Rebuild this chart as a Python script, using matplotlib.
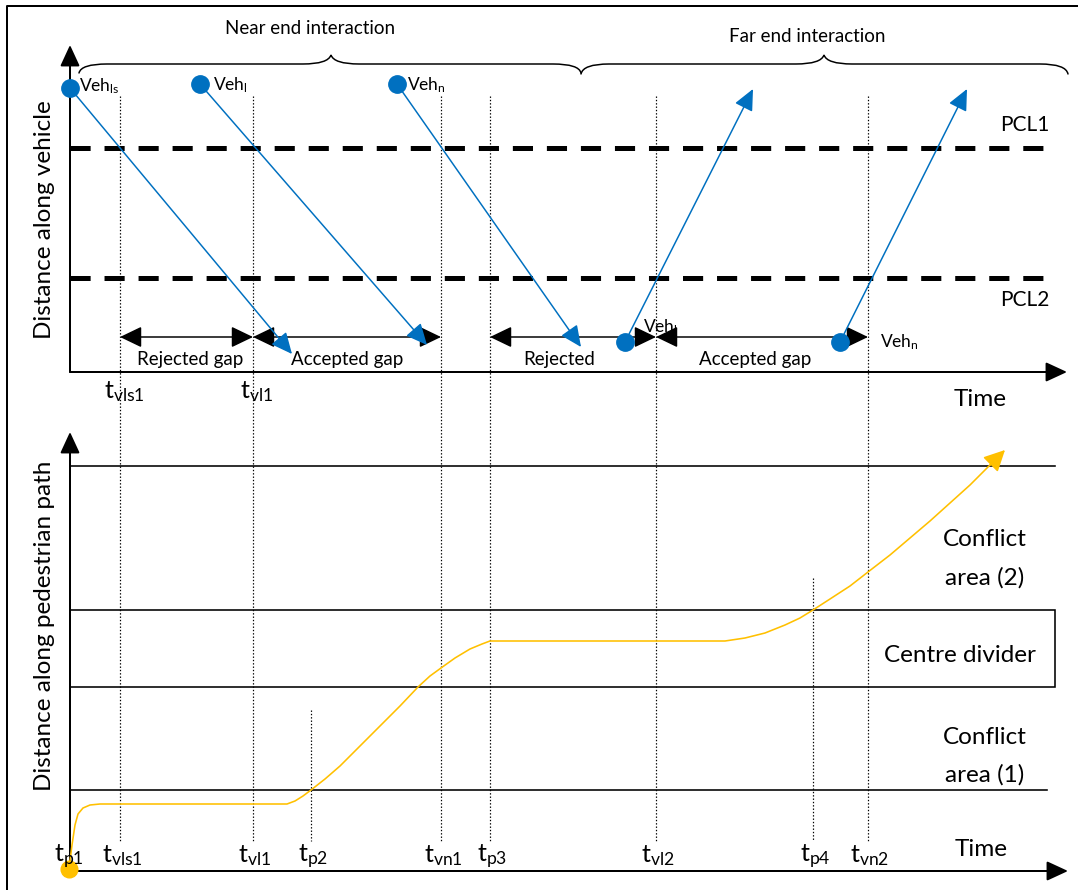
import matplotlib.pyplot as plt
from matplotlib.patches import FancyArrowPatch, Rectangle, PathPatch
from matplotlib.path import Path

plt.rcParams['font.family'] = ['Lato', 'DejaVu Sans']
plt.rcParams['mathtext.fontset'] = 'custom'
plt.rcParams['mathtext.rm'] = 'Lato'
plt.rcParams['mathtext.it'] = 'Lato:italic'
plt.rcParams['lines.scale_dashes'] = False

# Diagram units are canvas pixels (x = time, y grows downwards)

# event times marked on the time axes
T_NAMES = ['vls1', 'vl1', 'p2', 'vn1', 'p3', 'vl2', 'p4', 'vn2']
T_X = [120, 253, 311, 441, 490, 656, 813, 868]
T_START = [96, 96, 710, 96, 96, 96, 578, 96]
T_END = 841
T_TOP_LABELS = ['vls1', 'vl1']

# vehicle trajectories: dot -> arrow tip
VEH_NAMES = ['ls', 'l', 'n', 'l', 'n']
VEH_X0 = [70, 200, 397, 625, 840]
VEH_Y0 = [88, 84, 84, 342, 342]
VEH_X1 = [292, 427, 581, 753, 967]
VEH_Y1 = [354, 345, 347, 89, 89]

# pedestrian crossing lines
PCL_NAMES = ['PCL1', 'PCL2']
PCL_Y = [148, 278]

# gaps between vehicles
GAP_X0 = [120, 253, 490, 656]
GAP_X1 = [253, 441, 656, 868]
GAP_LABELS = ['Rejected gap', 'Accepted gap', 'Rejected', 'Accepted gap']
GAP_LABEL_X = [190, 347, 559, 755]
GAP_Y = 337

# pedestrian path (time, distance)
PED_X = [69, 72, 75, 78, 83, 90, 100, 287, 295, 303, 311, 325, 340, 360, 380,
         400, 418, 430, 441, 455, 470, 482, 490, 725, 745, 765, 785, 800, 813,
         830, 850, 868, 890, 910, 930, 950, 970, 990]
PED_Y = [869, 845, 825, 814, 808, 805, 804, 804, 801, 796, 790, 779, 766, 746,
         726, 706, 687, 676, 668, 658, 649, 644, 641, 641, 638, 633, 625, 618,
         610, 599, 586, 572, 555, 538, 521, 503, 485, 465]
PED_TIP = (1005, 450)

# zones along the pedestrian path
ZONE_Y = [466, 610, 687, 790]

PX = 0.72  # points per pixel at dpi 100
BLUE = '#0070C0'
YELLOW = '#FFC000'


def arrow(ax, p0, p1, style, color, lw, hl, hw, z=3):
    a = FancyArrowPatch(p0, p1, arrowstyle=f'{style},head_length={hl},head_width={hw}',
                        color=color, lw=lw, shrinkA=0, shrinkB=0,
                        mutation_scale=1, zorder=z)
    ax.add_patch(a)


def brace(ax, x0, x1, xm, y_end, y_flat, y_tip, r=28):
    verts = [(x0, y_end), (x0 + 2, y_flat), (x0 + r, y_flat),
             (xm - r, y_flat),
             (xm - 3, y_flat), (xm, y_tip),
             (xm + 3, y_flat), (xm + r, y_flat),
             (x1 - r, y_flat),
             (x1 - 2, y_flat), (x1, y_end)]
    codes = [Path.MOVETO, Path.CURVE3, Path.CURVE3, Path.LINETO,
             Path.CURVE3, Path.CURVE3, Path.CURVE3, Path.CURVE3,
             Path.LINETO, Path.CURVE3, Path.CURVE3]
    ax.add_patch(PathPatch(Path(verts, codes), fill=False, lw=1.5 * PX,
                           color='black', capstyle='round'))


fig = plt.figure(figsize=(10.78, 8.9), dpi=100)
ax = fig.add_axes([0, 0, 1, 1])
ax.set_xlim(0, 1078)
ax.set_ylim(890, 0)
ax.axis('off')

# outer frame
ax.plot([7, 7, 1078], [890, 6, 6], color='black', lw=2 * PX)

# dotted time guides
for x, y0 in zip(T_X, T_START):
    ax.plot([x, x], [y0, T_END], color='black', lw=1.2 * PX,
            linestyle=(0, (1.0, 1.4)), zorder=1)

# ---- top panel: vehicles ----
arrow(ax, (70, 372), (70, 45), '-|>', 'black', 2 * PX, 13, 6)
arrow(ax, (70, 372), (1067, 372), '-|>', 'black', 2 * PX, 13, 6)

for y, name in zip(PCL_Y, PCL_NAMES):
    ax.plot([70, 1045], [y, y], color='black', lw=5 * PX,
            dashes=(14.5, 10), solid_capstyle='butt', dash_capstyle='butt')
    ax.text(1000, y - 23 if name == 'PCL1' else y + 22, name, fontsize=15,
            ha='left', va='center')

for i in range(len(VEH_X0)):
    arrow(ax, (VEH_X0[i], VEH_Y0[i]), (VEH_X1[i], VEH_Y1[i]), '-|>', BLUE,
          1.5 * PX, 13, 6, z=4)
    ax.plot(VEH_X0[i], VEH_Y0[i], 'o', color=BLUE, ms=12.5, zorder=5)

veh_lab = [(79, 86), (213, 85), (407, 85), (643, 327), (880, 342)]
for (lx, ly), name in zip(veh_lab, VEH_NAMES):
    ax.text(lx, ly, r'Veh$_{\mathrm{' + name + '}}$', fontsize=12.5,
            ha='left', va='center', zorder=6)

for x0, x1, lab, lx in zip(GAP_X0, GAP_X1, GAP_LABELS, GAP_LABEL_X):
    arrow(ax, (x0, GAP_Y), (x1, GAP_Y), '<|-|>', 'black', 1.5 * PX, 13.5, 6.5)
    ax.text(lx, 360, lab, fontsize=13.5, ha='center', va='center')

for name, x in zip(T_NAMES, T_X):
    if name in T_TOP_LABELS:
        ax.text(x + 4, 398, r'$\mathrm{t_{' + name + '}}$', fontsize=18,
                ha='center', va='baseline')

ax.text(980, 399, 'Time', fontsize=17.5, ha='center', va='center')
ax.text(45, 220, 'Distance along vehicle', fontsize=17.5, rotation=90,
        ha='center', va='center')

brace(ax, 79, 581, 331, 73, 64, 55)
brace(ax, 581, 1068, 824, 74, 64, 55)
ax.text(310, 29, 'Near end interaction', fontsize=13.5, ha='center', va='center')
ax.text(807, 36, 'Far end interaction', fontsize=13.5, ha='center', va='center')

# ---- bottom panel: pedestrian ----
arrow(ax, (70, 871), (70, 432), '-|>', 'black', 2 * PX, 13, 6)
arrow(ax, (70, 871), (1068, 871), '-|>', 'black', 2 * PX, 13, 6)

ax.plot([70, 1055], [ZONE_Y[0], ZONE_Y[0]], color='black', lw=1.6 * PX)
ax.add_patch(Rectangle((70, ZONE_Y[1]), 985, ZONE_Y[2] - ZONE_Y[1],
                       fill=False, ec='black', lw=1.6 * PX))
ax.plot([70, 1047], [ZONE_Y[3], ZONE_Y[3]], color='black', lw=1.6 * PX)

ax.plot(PED_X, PED_Y, color=YELLOW, lw=1.6 * PX, zorder=4)
arrow(ax, (PED_X[-1], PED_Y[-1]), PED_TIP, '-|>', YELLOW, 1.6 * PX, 13, 6.5, z=4)
ax.plot(PED_X[0], PED_Y[0], 'o', color=YELLOW, ms=12, zorder=5)

ax.text(985, 540, 'Conflict', fontsize=17.5, ha='center', va='center')
ax.text(985, 578, 'area (2)', fontsize=17.5, ha='center', va='center')
ax.text(960, 656, 'Centre divider', fontsize=17.5, ha='center', va='center')
ax.text(985, 738, 'Conflict', fontsize=17.5, ha='center', va='center')
ax.text(985, 775, 'area (1)', fontsize=17.5, ha='center', va='center')
ax.text(981, 849, 'Time', fontsize=17.5, ha='center', va='center')
ax.text(45, 626, 'Distance along pedestrian path', fontsize=17.5, rotation=90,
        ha='center', va='center')

ax.text(PED_X[0], 862, r'$\mathrm{t_{p1}}$', fontsize=18, ha='center',
        va='baseline', zorder=6)
for name, x in zip(T_NAMES, T_X):
    ax.text(x + 2, 862, r'$\mathrm{t_{' + name + '}}$', fontsize=18,
            ha='center', va='baseline')

fig.savefig('out.png', dpi=100)
